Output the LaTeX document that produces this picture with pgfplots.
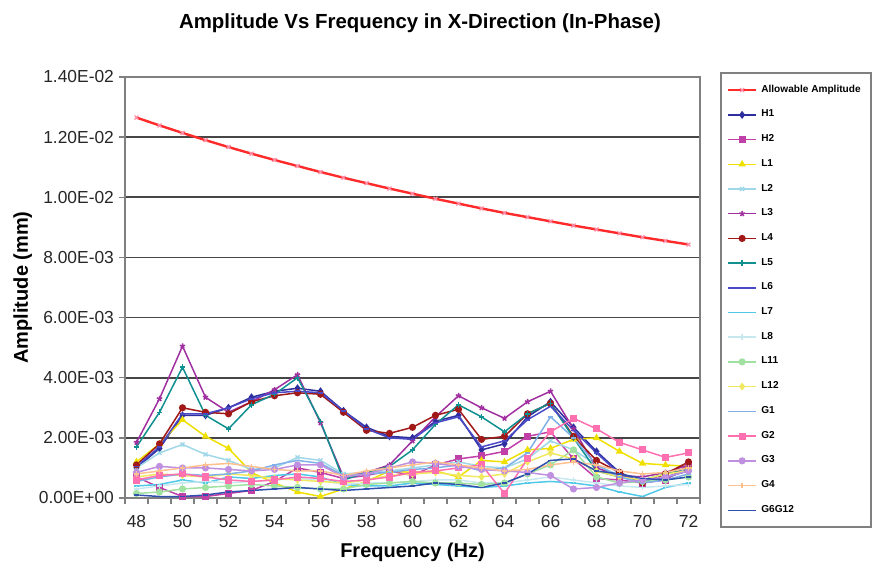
\documentclass[border=0pt]{standalone}
\usepackage{pgfplots}
\pgfplotsset{compat=1.18}
\usepackage{pgfplotstable}
\usepackage{fontspec}
\setmainfont{Liberation Sans}

\definecolor{cA}{HTML}{FF2A2A}
\definecolor{cAm}{HTML}{FF8FA8}
\definecolor{cH1}{HTML}{2E2E9E}
\definecolor{cH2}{HTML}{C040A8}
\definecolor{cL1}{HTML}{F0E000}
\definecolor{cL2}{HTML}{A0D8E8}
\definecolor{cL3}{HTML}{A030A0}
\definecolor{cL4}{HTML}{A01818}
\definecolor{cL5}{HTML}{109090}
\definecolor{cL6}{HTML}{4A4AC8}
\definecolor{cL7}{HTML}{50C8E8}
\definecolor{cL8}{HTML}{C8E8F0}
\definecolor{cL11}{HTML}{A0E0A0}
\definecolor{cL12}{HTML}{F0E860}
\definecolor{cG1}{HTML}{80B0E8}
\definecolor{cG2}{HTML}{FF70B0}
\definecolor{cG3}{HTML}{C090E0}
\definecolor{cG4}{HTML}{FFC090}
\definecolor{cG6}{HTML}{3050B0}

% amplitudes in units of 1e-3 mm
\pgfplotstableread{
f  A     H1   H2   L1   L2   L3   L4   L5   L6   L7   L8   L11  L12  G1   G2   G3   G4   G6
48 12.65 1.00 0.70 1.20 1.00 1.85 1.10 1.70 1.05 0.40 0.30 0.15 0.70 0.55 0.60 0.85 0.80 0.10
49 12.39 1.65 0.35 1.80 1.50 3.30 1.80 2.85 1.70 0.45 0.40 0.20 0.80 0.70 0.75 1.05 0.90 0.05
50 12.14 2.75 0.05 2.60 1.78 5.05 3.00 4.35 2.80 0.60 0.50 0.30 0.75 0.80 0.80 1.00 1.00 0.05
51 11.90 2.75 0.05 2.05 1.45 3.35 2.85 2.75 2.80 0.50 0.55 0.35 0.70 0.75 0.70 1.00 1.10 0.10
52 11.67 3.00 0.15 1.65 1.25 2.85 2.80 2.30 3.00 0.70 0.50 0.40 0.80 0.80 0.60 0.95 1.15 0.20
53 11.45 3.35 0.25 0.85 0.95 3.20 3.20 3.10 3.30 0.65 0.55 0.45 0.75 0.90 0.55 0.90 1.05 0.25
54 11.24 3.55 0.55 0.50 1.00 3.60 3.40 3.45 3.50 0.75 0.60 0.40 0.65 1.10 0.60 0.95 0.95 0.30
55 11.04 3.65 1.00 0.20 1.35 4.10 3.50 4.00 3.55 0.80 0.65 0.35 0.60 1.25 0.70 1.10 0.90 0.35
56 10.84 3.55 0.85 0.05 1.25 2.50 3.45 2.55 3.50 0.70 0.60 0.30 0.55 1.15 0.65 1.10 0.90 0.30
57 10.65 2.90 0.65 0.30 0.80 0.70 2.85 0.60 2.90 0.45 0.45 0.30 0.50 0.75 0.55 0.70 0.75 0.25
58 10.47 2.35 0.75 0.55 0.85 0.85 2.25 0.85 2.30 0.40 0.50 0.45 0.60 0.80 0.60 0.80 0.90 0.30
59 10.29 2.05 0.90 0.90 0.90 1.10 2.15 1.05 2.00 0.40 0.50 0.50 0.75 0.85 0.70 1.00 1.00 0.35
60 10.12 2.00 0.75 0.85 1.00 1.90 2.35 1.60 1.95 0.50 0.55 0.55 0.80 0.95 0.85 1.20 1.10 0.40
61 9.95  2.55 1.10 0.90 1.10 2.70 2.75 2.45 2.50 0.45 0.60 0.50 0.85 1.00 0.90 1.15 1.20 0.50
62 9.79  2.75 1.30 0.70 1.20 3.40 2.95 3.10 2.70 0.40 0.60 0.50 0.75 1.10 1.00 1.05 1.10 0.45
63 9.63  1.60 1.40 1.25 1.05 3.00 1.95 2.70 1.70 0.35 0.50 0.45 0.70 0.90 1.10 0.95 1.00 0.35
64 9.48  1.80 1.55 1.20 1.00 2.65 2.05 2.20 1.90 0.40 0.50 0.50 0.80 1.00 0.15 0.90 0.90 0.50
65 9.34  2.70 2.05 1.60 1.30 3.20 2.80 2.80 2.60 0.50 0.60 0.80 1.20 1.50 1.30 0.85 0.95 0.80
66 9.20  3.20 2.20 1.65 1.90 3.55 3.15 3.15 3.05 0.55 0.70 1.10 1.50 2.70 2.20 0.75 1.10 1.25
67 9.06  2.35 1.30 1.95 1.60 2.30 2.05 2.00 2.25 0.50 0.60 1.60 1.30 2.00 2.65 0.30 1.20 1.30
68 8.93  1.55 0.65 2.00 1.10 1.00 1.25 0.90 1.50 0.40 0.50 0.70 0.90 1.10 2.30 0.35 1.10 0.90
69 8.80  0.85 0.60 1.55 0.75 0.75 0.85 0.70 0.80 0.20 0.40 0.50 0.70 0.70 1.85 0.50 0.90 0.80
70 8.67  0.50 0.50 1.15 0.60 0.70 0.50 0.60 0.55 0.05 0.35 0.55 0.60 0.50 1.60 0.60 0.80 0.65
71 8.55  0.65 0.60 1.10 0.70 0.85 0.80 0.80 0.70 0.35 0.40 0.60 0.80 0.60 1.35 0.70 0.85 0.60
72 8.43  0.95 1.10 1.05 0.90 1.10 1.20 1.00 0.90 0.50 0.45 0.70 0.90 0.80 1.50 0.90 1.00 0.70
}\amp

\begin{document}
\begin{tikzpicture}
\useasboundingbox (0,0) rectangle (438pt,281pt);
\begin{axis}[
  at={(62.5pt,32pt)}, anchor=south west,
  width=287.5pt, height=210.5pt, scale only axis,
  xmin=47.5, xmax=72.5, ymin=0, ymax=14,
  xtick={48,50,...,72},
  xticklabels={48,50,52,54,56,58,60,62,64,66,68,70,72},
  minor xtick={47.5,48.5,...,72.5},
  ytick={0,2,...,14},
  minor ytick={0,2,...,14},
  yticklabels={0.00E+00,2.00E-03,4.00E-03,6.00E-03,8.00E-03,1.00E-02,1.20E-02,1.40E-02},
  tick pos=left,
  tick align=outside, major tick length=0pt, minor tick length=3pt,
  tick style={gray, line width=0.7pt},
  ticklabel style={font=\fontsize{8.7}{9}\selectfont, text=black!85},
  xticklabel style={yshift=-5pt},
  yticklabel style={xshift=-2pt},
  ymajorgrids, major grid style={gray!55!black, line width=0.8pt},
  axis line style={gray, line width=0.8pt},
  title={Amplitude Vs Frequency in X-Direction (In-Phase)},
  title style={at={(axis description cs:0.513,1.10)}, anchor=center, font=\fontsize{10.2}{12}\selectfont\bfseries},
  xlabel={Frequency (Hz)},
  xlabel style={at={(axis description cs:0.5,-0.128)}, anchor=center, font=\fontsize{10}{12}\selectfont\bfseries},
  ylabel={Amplitude (mm)},
  ylabel style={at={(axis description cs:-0.178,0.5)}, anchor=center, font=\fontsize{10}{12}\selectfont\bfseries},
  every axis plot/.append style={line width=0.75pt, mark size=1.4pt},
  legend image code/.code={\draw[mark repeat=2, mark phase=2, #1]
    plot coordinates {(0pt,0pt) (7pt,0pt) (14pt,0pt)};},
  legend style={at={(axis description cs:1.0348,1.0119)}, anchor=north west,
    draw=gray, line width=0.9pt, fill=white,
    font=\fontsize{5.05}{6}\selectfont\bfseries,
    row sep=3.35pt, inner xsep=3pt, inner ysep=4pt,
    cells={anchor=west}},
]
\addplot[cA, line width=1.2pt, mark=x, mark options={cAm, line width=0.6pt}] table[x=f, y=A] {\amp};
\addlegendentry{Allowable Amplitude}
\addplot[cH1, mark=diamond*] table[x=f, y=H1] {\amp};
\addlegendentry{H1}
\addplot[cH2, mark=square*] table[x=f, y=H2] {\amp};
\addlegendentry{H2}
\addplot[cL1, mark=triangle*] table[x=f, y=L1] {\amp};
\addlegendentry{L1}
\addplot[cL2, mark=x] table[x=f, y=L2] {\amp};
\addlegendentry{L2}
\addplot[cL3, mark=star] table[x=f, y=L3] {\amp};
\addlegendentry{L3}
\addplot[cL4, mark=*] table[x=f, y=L4] {\amp};
\addlegendentry{L4}
\addplot[cL5, mark=+] table[x=f, y=L5] {\amp};
\addlegendentry{L5}
\addplot[cL6, mark=-] table[x=f, y=L6] {\amp};
\addlegendentry{L6}
\addplot[cL7, mark=-] table[x=f, y=L7] {\amp};
\addlegendentry{L7}
\addplot[cL8, mark=+] table[x=f, y=L8] {\amp};
\addlegendentry{L8}
\addplot[cL11, mark=*] table[x=f, y=L11] {\amp};
\addlegendentry{L11}
\addplot[cL12, mark=diamond*] table[x=f, y=L12] {\amp};
\addlegendentry{L12}
\addplot[cG1, mark=-] table[x=f, y=G1] {\amp};
\addlegendentry{G1}
\addplot[cG2, mark=square*] table[x=f, y=G2] {\amp};
\addlegendentry{G2}
\addplot[cG3, mark=*] table[x=f, y=G3] {\amp};
\addlegendentry{G3}
\addplot[cG4, mark=+] table[x=f, y=G4] {\amp};
\addlegendentry{G4}
\addplot[cG6, mark=-] table[x=f, y=G6] {\amp};
\addlegendentry{G6G12}
\end{axis}
\end{tikzpicture}
\end{document}
